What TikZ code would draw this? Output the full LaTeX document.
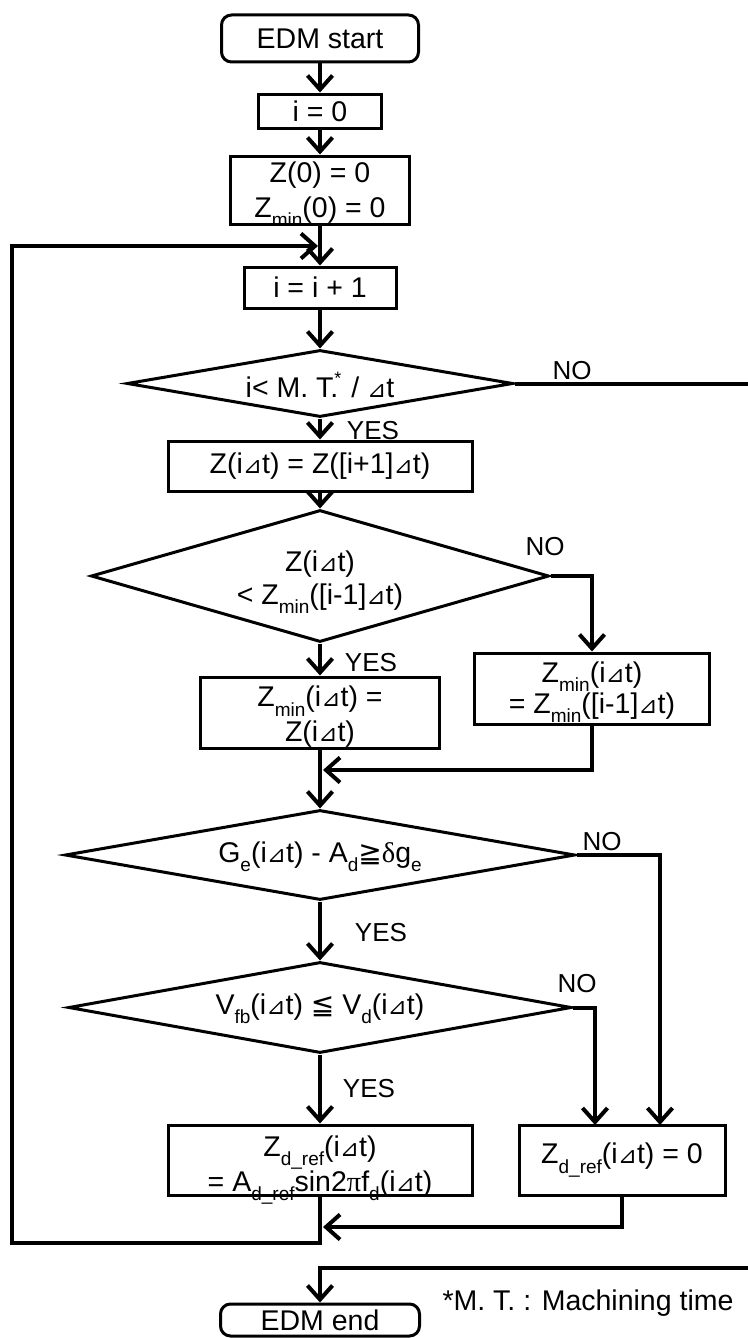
\documentclass[tikz,border=0pt]{standalone}
\usepackage{fontspec}
\setmainfont{Liberation Sans}
\newfontfamily\symf{DejaVu Sans}
\newfontfamily\grk{Liberation Serif}
\usetikzlibrary{arrows.meta,shapes.geometric}
\newcommand\tri{{\symf\fontsize{23}{23}\selectfont ⊿}}
\newcommand\sbx[1]{\raisebox{-0.32em}{\fontsize{19}{19}\selectfont #1}}
\newcommand\mygeq{{\symf\fontsize{28}{28}\selectfont ≧}}
\newcommand\myleq{{\symf\fontsize{28}{28}\selectfont ≦}}
\begin{document}
\begin{tikzpicture}[x=1pt,y=-1pt,
  every node/.style={font=\fontsize{28.5}{33}\selectfont},
  box/.style={draw, line width=3pt, inner sep=0pt, align=center},
  term/.style={box, rounded corners=10pt},
  dia/.style={draw, diamond, line width=3pt, inner sep=0pt},
  txt/.style={inner sep=0pt, align=center},
  lab/.style={inner sep=0pt, font=\fontsize{26}{30}\selectfont},
  flow/.style={line width=4pt, -{Straight Barb[length=14pt,width=25pt]}}]
\useasboundingbox (0,0) rectangle (747,1338);
% nodes
\node[term, minimum width=197pt, minimum height=47pt] (start) at (320,38.5) {EDM start};
\node[box, minimum width=123pt, minimum height=34pt] (i0) at (320,111) {i = 0};
\node[box, minimum width=179pt, minimum height=68pt] (z0) at (320,190) {};
\node[txt, font=\fontsize{28.5}{35}\selectfont] (z0t) at (320,194) {Z(0) = 0\\Z\sbx{min}(0) = 0};
\node[box, minimum width=152pt, minimum height=41pt] (inc) at (320,287.5) {i = i + 1};
\node[dia, minimum width=386pt, minimum height=67pt] (d1) at (320,383.5) {};
\node[txt] (d1t) at (320,385) {i< M. T.\kern-4pt\raisebox{0.45em}{\fontsize{18}{18}\selectfont *}\kern2pt\ / \tri t};
\node[box, minimum width=304pt, minimum height=50pt] (zs) at (320,466) {Z(i\tri t) = Z([i+1]\tri t)};
\node[dia, minimum width=458pt, minimum height=132pt] (d2) at (320,576) {};
\node[txt] (d2t) at (320,582) {Z(i\tri t)\\< Z\sbx{min}([i-1]\tri t)};
\node[box, minimum width=239pt, minimum height=71pt] (zl) at (320,712.5) {};
\node[txt, font=\fontsize{28.5}{35}\selectfont] (zlt) at (320,717) {Z\sbx{min}(i\tri t) =\\Z(i\tri t)};
\node[box, minimum width=235pt, minimum height=71pt] (zr) at (592,688.5) {};
\node[txt, font=\fontsize{28.5}{31}\selectfont] (zrt) at (592,692) {Z\sbx{min}(i\tri t)\\= Z\sbx{min}([i-1]\tri t)};
\node[dia, minimum width=510pt, minimum height=90pt] (d3) at (320,855) {};
\node[txt] (d3t) at (320,857) {G\sbx{e}(i\tri t) - A\sbx{d}\mygeq{\grk δ}g\sbx{e}};
\node[dia, minimum width=503pt, minimum height=91pt] (d4) at (320,1007.5) {};
\node[txt] (d4t) at (320,1009) {V\sbx{fb}(i\tri t) \myleq{} V\sbx{d}(i\tri t)};
\node[box, minimum width=304pt, minimum height=70pt] (zd) at (320,1160) {};
\node[txt, font=\fontsize{28.5}{31}\selectfont] (zdt) at (320,1170) {Z\sbx{d\_ref}(i\tri t)\\= A\sbx{d\_ref}sin2{\grk π}f\sbx{d}(i\tri t)};
\node[box, minimum width=206pt, minimum height=70pt] (zz) at (622,1160) {Z\sbx{d\_ref}(i\tri t) = 0};
\node[term, minimum width=199pt, minimum height=32pt] (end) at (320,1320) {EDM end};
\node[txt] (note) at (588,1303) {*M. T. : Machining time};
% labels
\node[lab] (no1) at (572,371) {NO};
\node[lab] (yes1) at (373,431) {YES};
\node[lab] (no2) at (545,547) {NO};
\node[lab] (yes2) at (371,663) {YES};
\node[lab] (no3) at (602,842) {NO};
\node[lab] (yes3) at (381,933) {YES};
\node[lab] (no4) at (577,984) {NO};
\node[lab] (yes4) at (369,1089) {YES};
% helper coordinates
\coordinate (mg1) at (323,770);
\coordinate (n3) at (660,1125);
\coordinate (n4) at (595,1125);
\coordinate (mg2) at (323,1227);
\coordinate (lb) at (320,1243);
\coordinate (ll) at (12,1243);
\coordinate (lt) at (12,246);
\coordinate (lp) at (318,246);
\coordinate (r1) at (770,383.5);
\coordinate (r2) at (770,1268);
\coordinate (e1) at (320,1268);
% connectors
\draw[flow] (start) -- (i0);
\draw[flow] (i0) -- (z0);
\draw[flow] (z0) -- (inc);
\draw[flow] (inc) -- (d1.north);
\draw[flow] (d1.south) -- (zs);
\draw[flow] (zs) -- (d2.north);
\draw[flow] (d2.south) -- (zl);
\draw[flow] (d2.east) -| (zr.north);
\draw[flow] (zr.south) |- (mg1);
\draw[flow] (zl) -- (d3.north);
\draw[flow] (d3.south) -- (d4.north);
\draw[flow] (d3.east) -| (n3);
\draw[flow] (d4.east) -| (n4);
\draw[flow] (d4.south) -- (zd);
\draw[flow] (zz.south) |- (mg2);
\draw[flow] (zd.south) -- (lb) -- (ll) -- (lt) -- (lp);
\draw[flow] (d1.east) -- (r1) -- (r2) -- (e1) -- (end.north);
\end{tikzpicture}
\end{document}
